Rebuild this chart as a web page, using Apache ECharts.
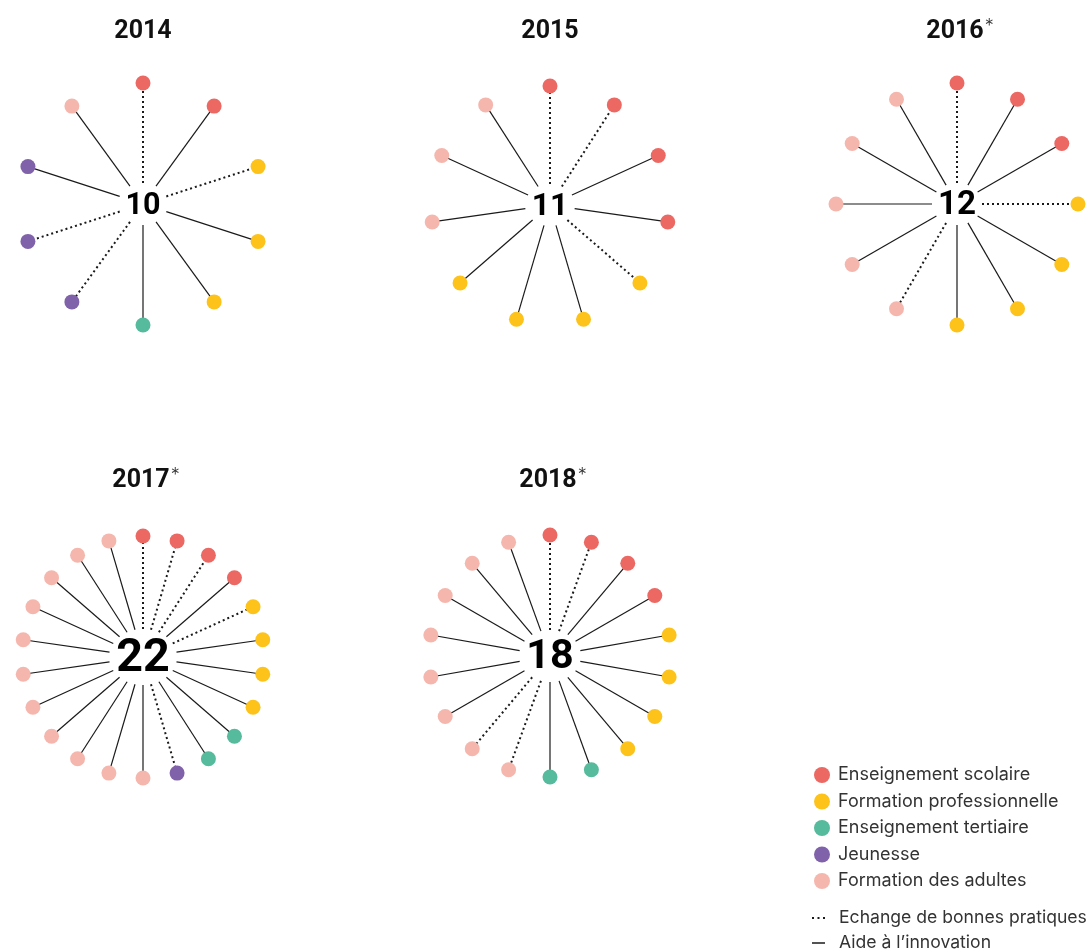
<!DOCTYPE html>
<html>
<head>
<meta charset="utf-8">
<script src="https://cdn.jsdelivr.net/npm/echarts@6/dist/echarts.min.js"></script>
<style>
  html, body { margin: 0; padding: 0; background: #fff; }
  #chart { width: 1090px; height: 952px; }
</style>
</head>
<body>
<div id="chart"></div>
<script>
// données
var years = ['2014', '2015', '2016', '2017', '2018'];
var starred = [false, false, true, true, true];
var categories = ['Enseignement scolaire', 'Formation professionnelle', 'Enseignement tertiaire', 'Jeunesse', 'Formation des adultes'];
var lineTypes = ['Echange de bonnes pratiques', 'Aide à l\u2019innovation'];

// rayons dans le sens horaire depuis le haut : index de catégorie
var cat2014 = [0, 0, 1, 1, 1, 2, 3, 3, 3, 4];
var cat2015 = [0, 0, 0, 0, 1, 1, 1, 1, 4, 4, 4];
var cat2016 = [0, 0, 0, 1, 1, 1, 1, 4, 4, 4, 4, 4];
var cat2017 = [0, 0, 0, 0, 1, 1, 1, 1, 2, 2, 3, 4, 4, 4, 4, 4, 4, 4, 4, 4, 4, 4];
var cat2018 = [0, 0, 0, 0, 1, 1, 1, 1, 2, 2, 4, 4, 4, 4, 4, 4, 4, 4];

// 1 = échange de bonnes pratiques (pointillé), 0 = aide à l'innovation (trait plein)
var dot2014 = [1, 0, 1, 0, 0, 0, 1, 1, 0, 0];
var dot2015 = [1, 1, 0, 0, 1, 0, 0, 0, 0, 0, 0];
var dot2016 = [1, 0, 0, 1, 0, 0, 0, 1, 0, 0, 0, 0];
var dot2017 = [1, 1, 1, 0, 1, 0, 0, 0, 0, 0, 1, 0, 0, 0, 0, 0, 0, 0, 0, 0, 0, 0];
var dot2018 = [1, 1, 0, 0, 0, 0, 0, 0, 0, 0, 1, 1, 0, 0, 0, 0, 0, 0];

var cats = [cat2014, cat2015, cat2016, cat2017, cat2018];
var dots = [dot2014, dot2015, dot2016, dot2017, dot2018];

// mise en page
var colors = ['#ec6863', '#fdc31a', '#56ba9c', '#7f62a9', '#f5b7ad'];
var centers = [[143, 204], [550, 205], [957, 204], [143, 657], [550, 656]];
var radii = [121, 119, 121, 121, 121];
var gaps = [[25, 21], [25, 21], [25, 21], [34, 28], [31, 26]];
var titleTops = [18, 18, 18, 467, 467];
var FONT = 'Inter, "Noto Sans", sans-serif';
var NUMFONT = 'Roboto, Inter, sans-serif';

var chart = echarts.init(document.getElementById('chart'));

var polar = [], angleAxis = [], radiusAxis = [], series = [], title = [];

years.forEach(function (y, k) {
    var n = cats[k].length;
    polar.push({ center: centers[k], radius: radii[k] });
    angleAxis.push({ polarIndex: k, type: 'value', min: 0, max: n, startAngle: 90, clockwise: true, show: false });
    radiusAxis.push({ polarIndex: k, type: 'value', min: 0, max: 1, show: false });

    title.push({
        text: starred[k] ? '{y|' + y + '}{s|*}' : '{y|' + y + '}',
        left: centers[k][0] + (starred[k] ? 3 : 0),
        top: titleTops[k],
        textAlign: 'center',
        padding: 0,
        textStyle: {
            rich: {
                y: { fontFamily: NUMFONT, fontSize: 25, fontWeight: 'bold', color: '#111', lineHeight: 28 },
                s: { fontFamily: FONT, fontSize: 18, fontWeight: 300, color: '#333', verticalAlign: 'top', lineHeight: 20, padding: [0, 0, 0, 1] }
            }
        }
    });

    // rayons (traits)
    [1, 0].forEach(function (isDot, t) {
        var data = [];
        dots[k].forEach(function (d, i) { if (d === isDot) data.push([1, i]); });
        series.push({
            type: 'custom',
            name: lineTypes[t],
            coordinateSystem: 'polar',
            polarIndex: k,
            z: 2,
            silent: true,
            itemStyle: { color: '#1a1a1a' },
            data: data,
            renderItem: function (params, api) {
                var i = api.value(1);
                var th = i / n * 2 * Math.PI;
                var g = gaps[k];
                var rin = 1 / Math.sqrt(Math.pow(Math.sin(th) / g[0], 2) + Math.pow(Math.cos(th) / g[1], 2));
                var p0 = api.coord([rin / radii[k], i]);
                var p1 = api.coord([api.value(0), i]);
                return {
                    type: 'line',
                    shape: { x1: p0[0], y1: p0[1], x2: p1[0], y2: p1[1] },
                    style: isDot
                        ? { stroke: '#1a1a1a', lineWidth: 2, lineDash: [2, 3] }
                        : { stroke: '#1a1a1a', lineWidth: 1.2 }
                };
            }
        });
    });

    // points colorés
    categories.forEach(function (c, ci) {
        var data = [];
        cats[k].forEach(function (v, i) { if (v === ci) data.push([1, i]); });
        if (!data.length) return;
        series.push({
            type: 'scatter',
            name: c,
            coordinateSystem: 'polar',
            polarIndex: k,
            z: 3,
            silent: true,
            symbol: 'circle',
            symbolSize: 15,
            itemStyle: { color: colors[ci], opacity: 1 },
            data: data
        });
    });

    // nombre au centre
    series.push({
        type: 'scatter',
        coordinateSystem: 'polar',
        polarIndex: k,
        z: 4,
        silent: true,
        symbolSize: 0.1,
        itemStyle: { color: 'transparent', opacity: 1 },
        data: [[0, 0]],
        label: {
            show: true,
            position: 'inside',
            offset: [0, 2],
            formatter: String(n),
            fontFamily: NUMFONT,
            fontWeight: 'bold',
            fontSize: 17 + 1.35 * n,
            color: '#000',
            opacity: 1,
            textBorderWidth: 0
        }
    });
});

var option = {
    backgroundColor: '#fff',
    animation: false,
    title: title,
    polar: polar,
    angleAxis: angleAxis,
    radiusAxis: radiusAxis,
    legend: [
        {
            orient: 'vertical',
            left: 814,
            top: 766,
            height: 160,
            padding: 0,
            itemWidth: 16,
            itemHeight: 16,
            itemGap: 8.5,
            selectedMode: false,
            icon: 'circle',
            textStyle: { fontFamily: FONT, fontSize: 18, color: '#333', padding: [0, 0, 0, 3] },
            data: categories
        },
        {
            orient: 'vertical',
            left: 812,
            top: 909,
            height: 80,
            padding: 0,
            itemWidth: 13,
            itemHeight: 2,
            itemGap: 7,
            selectedMode: false,
            textStyle: { fontFamily: FONT, fontSize: 17.6, color: '#333', padding: [0, 0, 0, 9] },
            data: [
                { name: lineTypes[0], icon: 'path://M0,0h2v2h-2zM5.5,0h2v2h-2zM11,0h2v2h-2z', itemStyle: { color: '#1a1a1a' } },
                { name: lineTypes[1], icon: 'path://M0,0h13v1.5h-13z', itemStyle: { color: '#1a1a1a' } }
            ]
        }
    ],
    series: series
};

chart.setOption(option);
</script>
</body>
</html>
